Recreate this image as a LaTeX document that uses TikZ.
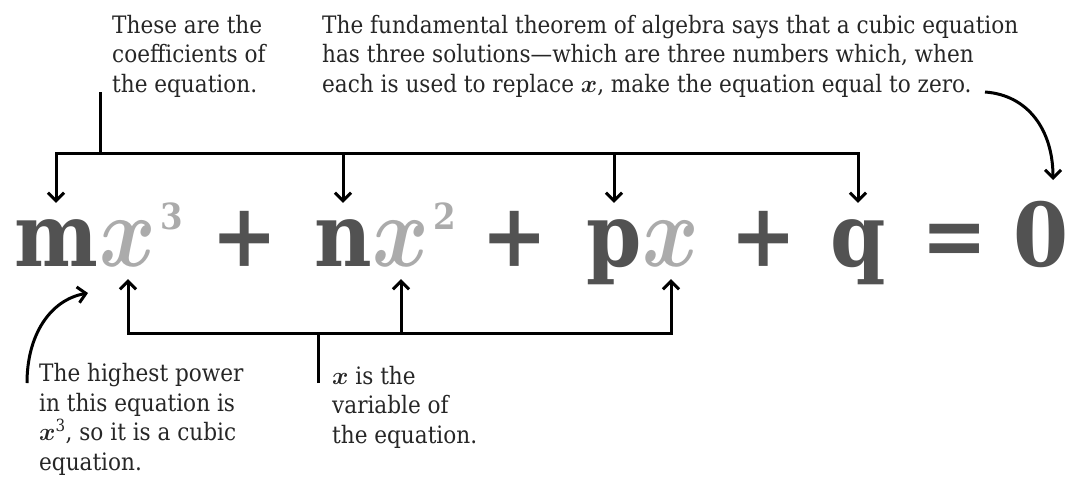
\documentclass[tikz,border=0pt]{standalone}
\usepackage{amsmath}
\usepackage{fontspec}
\setmainfont{DejaVu Serif Condensed}
\newfontfamily\eqfont{DejaVu Serif Condensed}
\usetikzlibrary{arrows.meta,calc}

\begin{document}
\begin{tikzpicture}[x=1pt,y=1pt,
  coef/.style={anchor=base, inner sep=0pt, text height=63pt, text depth=13pt,
    font=\eqfont\bfseries\fontsize{88}{88}\selectfont, text=black!68},
  varx/.style={coef, font=\normalsize, text=black!33},
  power/.style={anchor=base, inner sep=0pt,
    font=\eqfont\bfseries\fontsize{36}{36}\selectfont, text=black!33},
  note/.style={anchor=base west, align=left, inner sep=0pt,
    font=\fontsize{24}{29.5}\selectfont, text=black!85},
  bar/.style={line width=3pt},
  link/.style={bar, -{Straight Barb[length=8pt,width=16pt]}}]
\useasboundingbox (0,0) rectangle (1068,-480);

% the equation
\foreach \nm/\xx/\txt in {m/56/m, n/343/n, p/614/p, q/858/q}
  \node[coef] (\nm) at (\xx,-266) {\txt};
\foreach \nm/\xx/\txt in {plusa/245/+, plusb/515/+, plusc/764/+, eq/955/=, zero/1041/0}
  \node[coef] (\nm) at (\xx,-266) {\txt};
\foreach \nm/\xx in {xa/128, xb/401, xc/671}
  \node[varx] (\nm) at (\xx,-266) {\scalebox{8.6}[10.2]{$\boldsymbol{x}$}};
\node[power] (pa) at (172,-229) {3};
\node[power] (pb) at (445,-229) {2};

% notes (anchored on the baseline of their last line)
\node[note] (coefnote) at (112,-92) {These are the\\coefficients of\\the equation.};
\node[note] (rootnote) at (322,-92) {The fundamental theorem of algebra says that a cubic equation\\
  has three solutions---which are three numbers which, when\\
  each is used to replace $\boldsymbol{x}$, make the equation equal to zero.};
\node[note] (powernote) at (39,-470) {The highest power\\in this equation is\\
  $\boldsymbol{x}$\textsuperscript{3}, so it is a cubic\\equation.};
\node[note] (varnote) at (332,-443) {$\boldsymbol{x}$ is the\\variable of\\the equation.};

% coefficients bracket
\coordinate (coefstem) at (100,-92);
\coordinate (topbar) at (100,-153);
\draw[bar] (coefstem) -- (topbar);
\draw[link] (topbar) -| (m.north);
\draw[link] (topbar) -| (q.north);
\foreach \t in {n,p} \draw[link] (\t.north |- topbar) -- (\t.north);

% variable bracket
\coordinate (botbar) at (318,-333);
\coordinate (varstem) at (318,-383);
\draw[bar] (varstem) -- (botbar);
\draw[link] (botbar) -| (xa.south);
\draw[link] (botbar) -| (xc.south);
\draw[link] (xb.south |- botbar) -- (xb.south);

% curved pointers
\coordinate (powertail) at (27,-383);
\coordinate (powerhead) at (88,-293);
\draw[link] (powertail) .. controls (27,-335) and (50,-300) .. (powerhead);
\coordinate (roottail) at (985,-92);
\coordinate (roothead) at (1053,-180);
\draw[link] (roottail) .. controls (1028,-95) and (1053,-130) .. (roothead);
\end{tikzpicture}
\end{document}
